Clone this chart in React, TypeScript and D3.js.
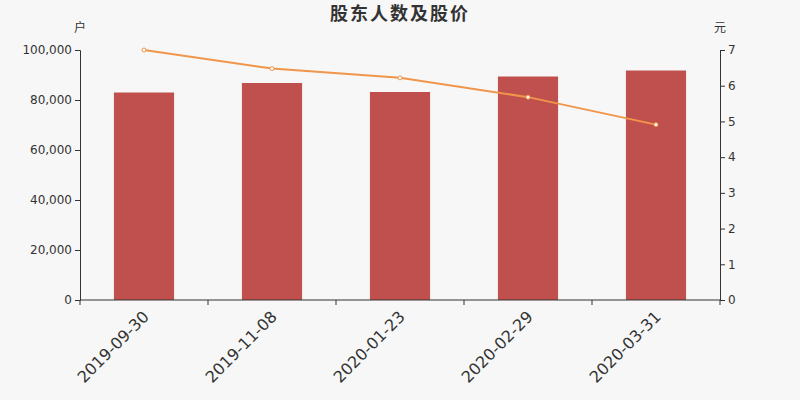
import React, { useEffect, useRef } from 'react';
import * as d3 from 'd3';

const dates = ['2019-09-30', '2019-11-08', '2020-01-23', '2020-02-29', '2020-03-31'];
const holders = [83000, 86800, 83200, 89400, 91800];
const prices = [7.0, 6.48, 6.22, 5.68, 4.91];
const leftTicks = [0, 20000, 40000, 60000, 80000, 100000];
const rightTicks = [0, 1, 2, 3, 4, 5, 6, 7];

export default function App() {
  const svgRef = useRef<SVGSVGElement>(null);

  useEffect(() => {
    if (!svgRef.current) return;
    const root = d3.select(svgRef.current);
    root.selectAll('*').remove();

    const W = 800, H = 400;
    const margin = { top: 50, right: 80, bottom: 100, left: 80 };
    const width = W - margin.left - margin.right;
    const height = H - margin.top - margin.bottom;
    const font = '"DejaVu Sans", "Noto Sans CJK SC", sans-serif';

    root.append('rect').attr('width', W).attr('height', H).attr('fill', '#f7f7f7');

    root.append('text')
      .attr('x', W / 2).attr('y', 20)
      .attr('text-anchor', 'middle')
      .attr('font-family', '"Noto Sans CJK SC", sans-serif')
      .attr('font-size', 18).attr('font-weight', 'bold').attr('fill', '#333')
      .attr('letter-spacing', 2)
      .text('股东人数及股价');

    const svg = root.append('g').attr('transform', `translate(${margin.left},${margin.top})`);

    const x = d3.scaleBand().domain(dates).range([0, width]).paddingInner(0.53).paddingOuter(0.265);
    const xTick = d3.scaleBand().domain(dates).range([0, width]);
    const y1 = d3.scaleLinear().domain([0, 100000]).range([height, 0]);
    const y2 = d3.scaleLinear().domain([0, 7]).range([height, 0]);

    // bars
    svg.selectAll('.bar')
      .data(dates)
      .enter()
      .append('rect')
      .attr('x', d => x(d)!)
      .attr('width', x.bandwidth())
      .attr('y', (_, i) => y1(holders[i]))
      .attr('height', (_, i) => height - y1(holders[i]))
      .attr('fill', '#c0504d');

    // price line
    const line = d3.line<number>()
      .x((_, i) => xTick(dates[i])! + xTick.bandwidth() / 2)
      .y(d => y2(d));
    svg.append('path')
      .datum(prices)
      .attr('fill', 'none')
      .attr('stroke', '#f0954a')
      .attr('stroke-width', 2)
      .attr('d', line);
    svg.selectAll('.pt')
      .data(prices)
      .enter()
      .append('circle')
      .attr('cx', (_, i) => xTick(dates[i])! + xTick.bandwidth() / 2)
      .attr('cy', d => y2(d))
      .attr('r', 2)
      .attr('fill', '#fff')
      .attr('stroke', '#f0954a')
      .attr('stroke-width', 1);

    // left axis
    const gl = svg.append('g')
      .call(d3.axisLeft(y1).tickValues(leftTicks).tickFormat(d3.format(',')).tickSizeOuter(0).tickSize(5));
    gl.selectAll('text').attr('font-size', 12).attr('font-family', font).attr('fill', '#333');
    gl.selectAll('line,path').attr('stroke', '#333');

    // right axis
    const gr = svg.append('g').attr('transform', `translate(${width},0)`)
      .call(d3.axisRight(y2).tickValues(rightTicks).tickFormat(d3.format('d')).tickSizeOuter(0).tickSize(5));
    gr.selectAll('text').attr('font-size', 12).attr('font-family', font).attr('fill', '#333');
    gr.selectAll('line,path').attr('stroke', '#333');

    // bottom axis
    const gb = svg.append('g').attr('transform', `translate(0,${height})`);
    gb.append('line').attr('x1', 0).attr('x2', width).attr('stroke', '#333');
    gb.selectAll('.tk')
      .data([...dates.map(d => xTick(d)!), width])
      .enter()
      .append('line')
      .attr('x1', d => d).attr('x2', d => d)
      .attr('y1', 0).attr('y2', 5)
      .attr('stroke', '#333');
    gb.selectAll('.lbl')
      .data(dates)
      .enter()
      .append('text')
      .attr('transform', d => `translate(${xTick(d)! + xTick.bandwidth() / 2 - 2},${10}) rotate(-45)`)
      .attr('text-anchor', 'end')
      .attr('dy', '0.7em')
      .attr('font-size', 16)
      .attr('font-family', font)
      .attr('fill', '#333')
      .text(d => d);

    // units
    svg.append('text').attr('x', 0).attr('y', -18).attr('text-anchor', 'middle')
      .attr('font-size', 12).attr('font-family', '"Noto Sans CJK SC", sans-serif').attr('fill', '#333').text('户');
    svg.append('text').attr('x', width).attr('y', -18).attr('text-anchor', 'middle')
      .attr('font-size', 12).attr('font-family', '"Noto Sans CJK SC", sans-serif').attr('fill', '#333').text('元');
  }, []);

  return (
    <svg ref={svgRef} width={800} height={400} style={{ position: 'absolute', left: 0, top: 0 }} />
  );
}
